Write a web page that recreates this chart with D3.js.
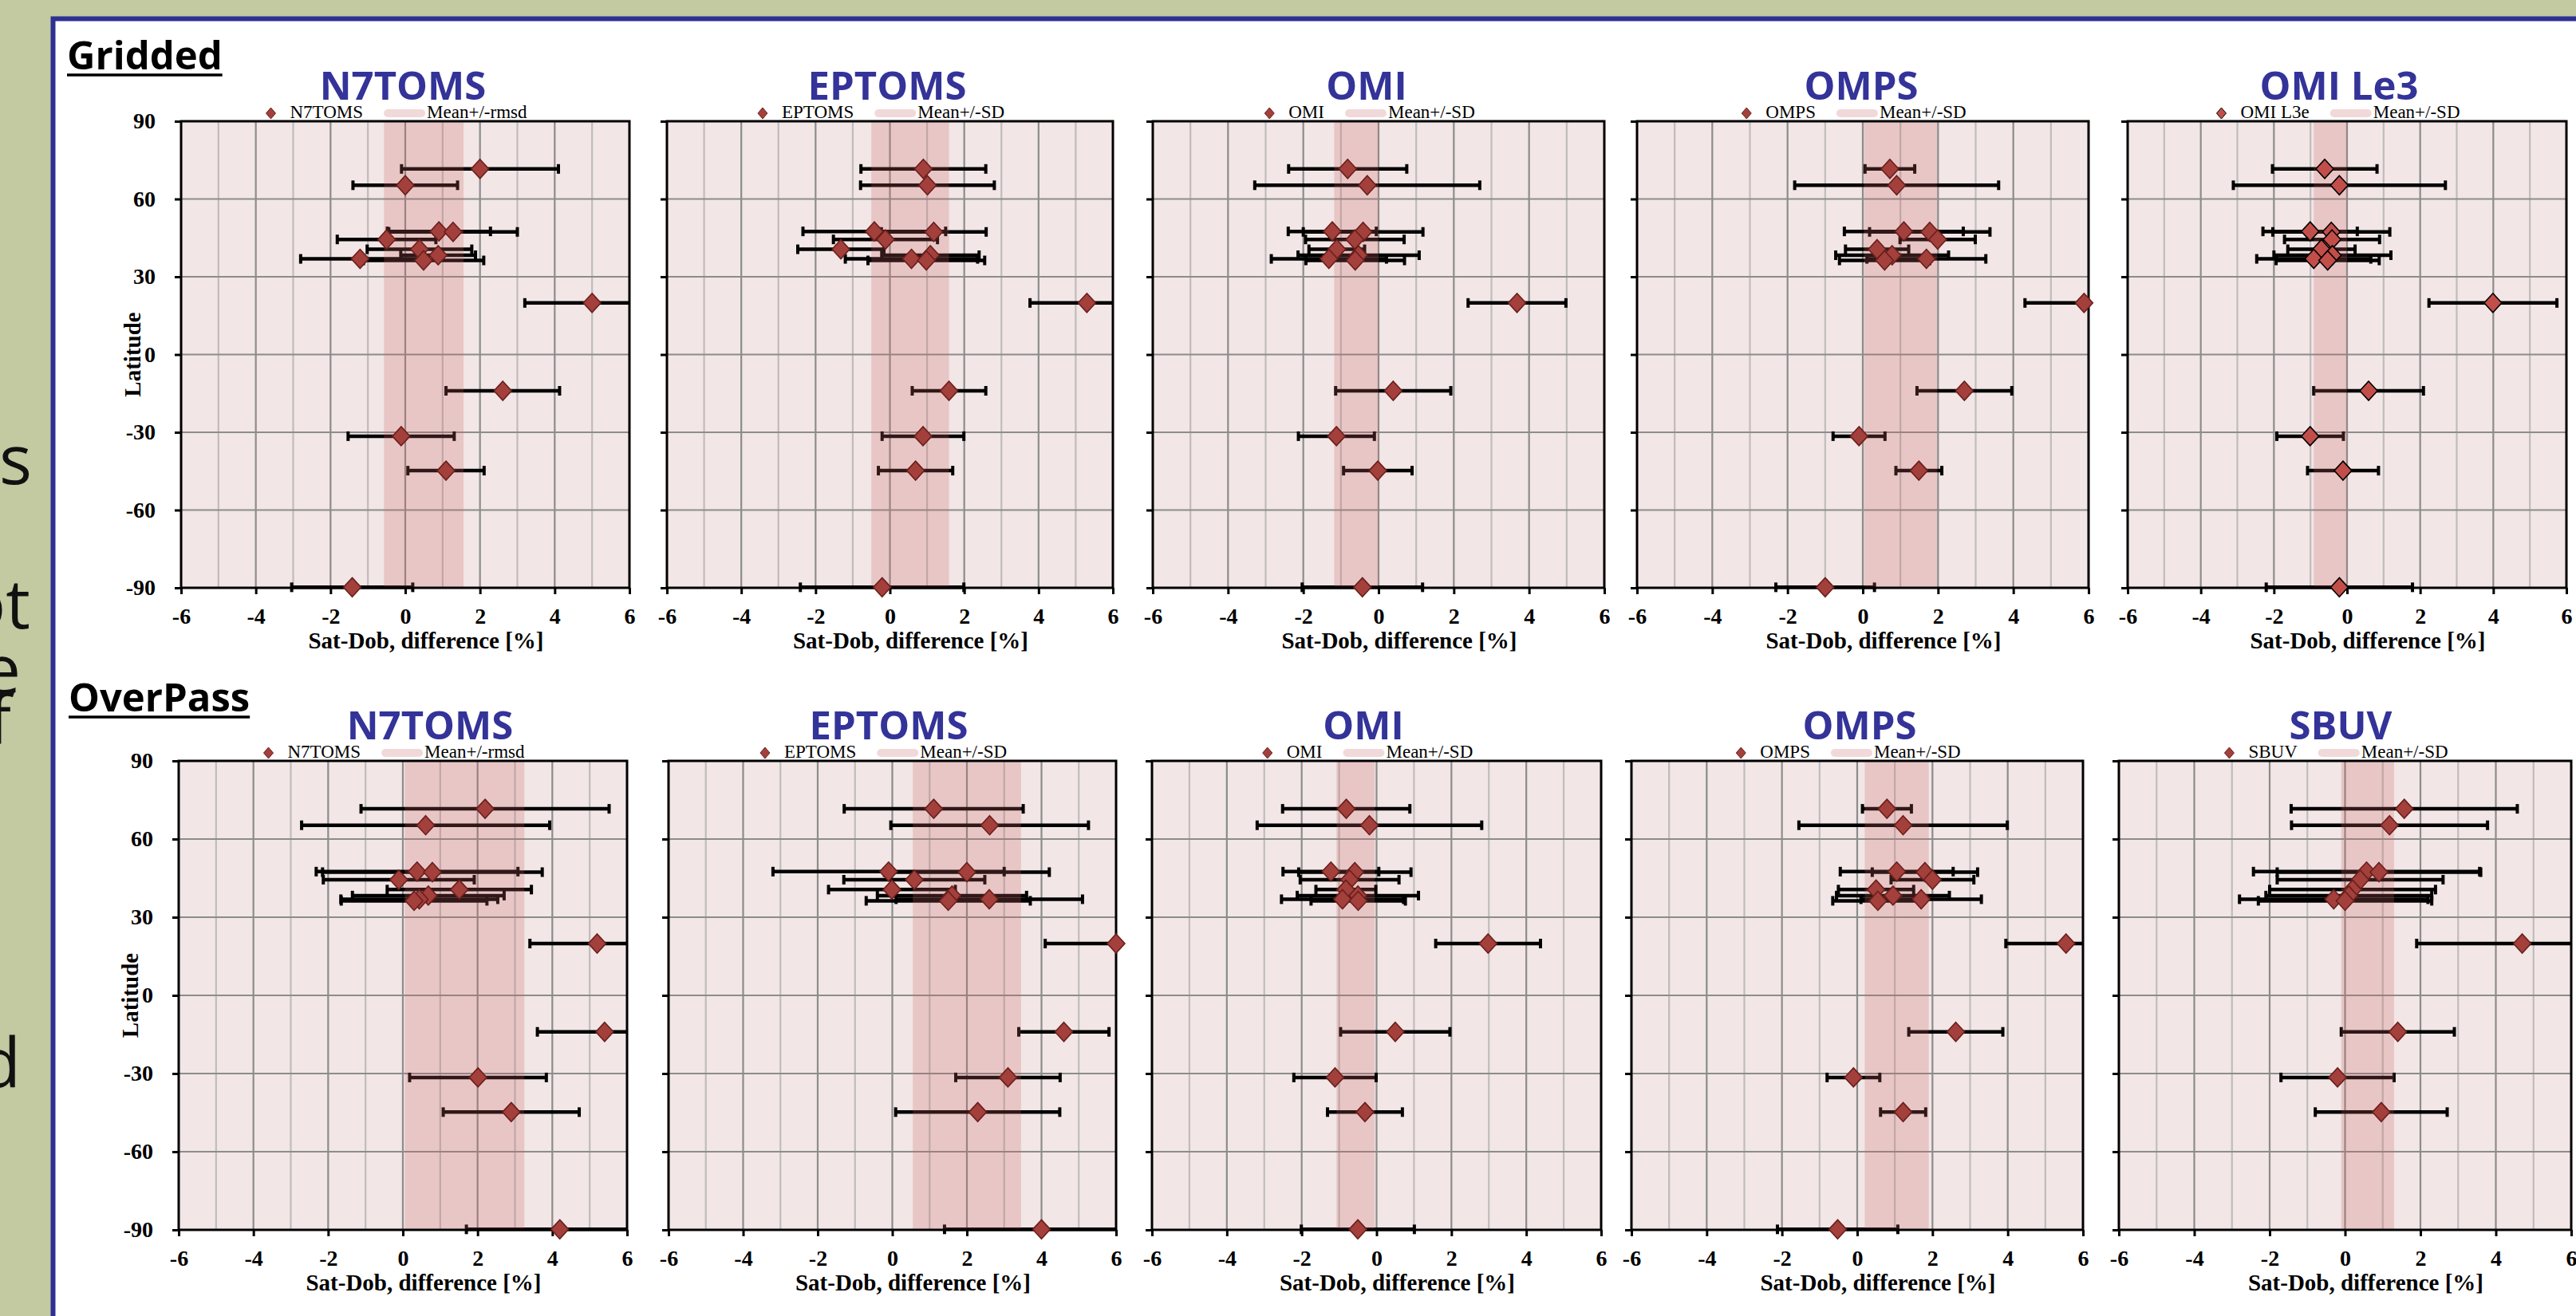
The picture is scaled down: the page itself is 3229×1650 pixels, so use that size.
<!DOCTYPE html>
<html>
<head>
<meta charset="utf-8">
<script src="https://cdn.jsdelivr.net/npm/d3@7"></script>
<style>
  body { margin: 0; background: #c3c9a0; }
  svg { display: block; }
</style>
</head>
<body>
<svg id="chart" width="3229" height="1650"></svg>
<script>
// station latitudes, shared by every panel (north to south)
const stationLat = [71.6, 65.3, 47.5, 47.3, 44.4, 40.6, 38.3, 36.9, 36.3, 19.9, -14.0, -31.5, -44.8, -89.8];
const latTicks = [-90, -60, -30, 0, 30, 60, 90];
const diffTicks = [-6, -4, -2, 0, 2, 4, 6];

// Gridded: mean difference and SD per station
const gridN7Mean   = [2.0, 0.0, 0.9, 1.28, -0.5, 0.38, 0.88, -1.21, 0.49, 5.0, 2.61, -0.11, 1.09, -1.42];
const gridN7Sd     = [2.1, 1.4, 1.38, 1.72, 1.32, 1.4, 1.0, 1.59, 1.61, 1.8, 1.52, 1.42, 1.02, 1.62];
const gridEPMean   = [0.9, 1.01, -0.42, 1.18, -0.12, -1.32, 1.09, 0.58, 0.98, 5.3, 1.59, 0.89, 0.69, -0.21];
const gridEPSd     = [1.68, 1.8, 1.92, 1.41, 1.4, 1.16, 1.31, 1.78, 1.57, 1.53, 0.99, 1.1, 1.0, 2.2];
const gridOMIMean  = [-0.82, -0.3, -1.23, -0.41, -0.63, -1.11, -0.53, -1.32, -0.62, 3.68, 0.39, -1.12, -0.02, -0.43];
const gridOMISd    = [1.57, 2.99, 1.17, 1.59, 1.31, 0.74, 1.61, 1.53, 1.31, 1.3, 1.53, 1.01, 0.91, 1.6];
const gridOMPSMean = [0.72, 0.9, 1.09, 1.78, 1.99, 0.38, 0.78, 1.69, 0.58, 5.88, 2.7, -0.1, 1.49, -1.0];
const gridOMPSSd   = [0.66, 2.71, 1.58, 1.6, 1.0, 0.84, 1.5, 1.58, 1.2, 1.57, 1.26, 0.69, 0.61, 1.31];
const gridL3Mean   = [-0.61, -0.21, -1.01, -0.43, -0.41, -0.7, -0.4, -0.91, -0.53, 3.99, 0.59, -1.01, -0.11, -0.21];
const gridL3Sd     = [1.43, 2.9, 1.29, 1.6, 1.3, 0.92, 1.6, 1.56, 1.41, 1.75, 1.5, 0.91, 0.97, 2.0];

// OverPass
const ovN7Mean   = [2.2, 0.61, 0.38, 0.79, -0.11, 1.51, 0.68, 0.44, 0.3, 5.2, 5.4, 2.01, 2.9, 4.2];
const ovN7Sd     = [3.32, 3.32, 2.7, 2.94, 2.02, 1.93, 2.03, 2.1, 1.95, 1.8, 1.8, 1.83, 1.82, 2.5];
const ovEPMean   = [1.11, 2.61, -0.1, 2.0, 0.59, -0.01, 1.6, 2.6, 1.5, 6.0, 4.6, 3.1, 2.29, 4.0];
const ovEPSd     = [2.4, 2.65, 3.1, 2.21, 1.89, 1.7, 2.0, 2.5, 2.2, 1.9, 1.21, 1.4, 2.2, 2.6];
const ovOMIMean  = [-0.81, -0.19, -1.22, -0.58, -0.72, -0.82, -0.5, -0.91, -0.49, 2.98, 0.5, -1.11, -0.31, -0.5];
const ovOMISd    = [1.7, 3.0, 1.28, 1.5, 1.32, 0.8, 1.62, 1.63, 1.26, 1.4, 1.46, 1.1, 1.0, 1.51];
const ovOMPSMean = [0.79, 1.22, 1.05, 1.8, 2.0, 0.5, 0.95, 1.7, 0.55, 5.55, 2.62, -0.1, 1.22, -0.52];
const ovOMPSSd   = [0.65, 2.77, 1.5, 1.4, 1.1, 1.0, 1.5, 1.6, 1.2, 1.6, 1.25, 0.7, 0.6, 1.6];
const ovSBUVMean = [1.57, 1.18, 0.57, 0.9, 0.4, 0.2, 0.1, -0.3, 0.0, 4.7, 1.4, -0.2, 0.96, null];
const ovSBUVSd   = [3.0, 2.6, 3.0, 2.7, 2.2, 2.2, 2.2, 2.5, 2.3, 2.8, 1.5, 1.5, 1.75, null];

// mean +/- SD (or rmsd) bands
const bandLo = { gN7: -0.57, gEP: -0.5, gOMI: -1.18, gOMPS: 0.03, gL3: -0.91,
                 oN7: 0.05, oEP: 0.55, oOMI: -1.07, oOMPS: 0.2, oSBUV: -0.1 };
const bandHi = { gN7: 1.56, gEP: 1.59, gOMI: 0.0, gOMPS: 1.98, gL3: 0.0,
                 oN7: 3.25, oEP: 3.45, oOMI: -0.05, oOMPS: 1.9, oSBUV: 1.3 };

const SERIF = "'Liberation Serif', 'Times New Roman', serif";
const SANS = "'Open Sans', 'DejaVu Sans', sans-serif";
const BLUE = "#333399";

const svg = d3.select("#chart");
const W = 3229, H = 1650;

// slide background and frame
svg.append("rect").attr("width", W).attr("height", H).attr("fill", "#c3c9a0");
svg.append("rect")
    .attr("x", 66.5).attr("y", 23.5)
    .attr("width", W).attr("height", H)
    .attr("fill", "#fff")
    .attr("stroke", "#2e3192").attr("stroke-width", 6);

// pieces of slide text cut off on the left
svg.append("clipPath").attr("id", "leftcut")
    .append("rect").attr("x", 0).attr("y", 0).attr("width", 63).attr("height", H);
const cut = svg.append("g").attr("clip-path", "url(#leftcut)")
    .attr("font-family", SANS).attr("font-size", 86).attr("fill", "#111")
    .attr("text-anchor", "end");
[["s", 40, 607], ["ot", 38, 788], ["e", 26, 870], ["f", 14, 933], ["d", 26, 1363]]
    .forEach(([t, x, y]) => cut.append("text").attr("x", x).attr("y", y).text(t));

// row labels
function rowLabel(text, x, y) {
    const t = svg.append("text")
        .attr("x", x).attr("y", y)
        .attr("font-family", SANS).attr("font-weight", 700)
        .attr("font-size", 49).attr("fill", "#000")
        .text(text);
    const w = t.node().getComputedTextLength();
    svg.append("line")
        .attr("x1", x).attr("x2", x + w)
        .attr("y1", y + 7).attr("y2", y + 7)
        .attr("stroke", "#000").attr("stroke-width", 3.5);
}
rowLabel("Gridded", 84, 87);
rowLabel("OverPass", 86, 892);

function ErrorBarPanel(
    means, sds, band,
    {
        left, right, top, bottom,
        title, title_x, label,
        band_label = "Mean+/-SD",
        y_labels = false,
        marker_fill = "#a3403c",
        marker_stroke = "#6a1f1c"
    } = {}
){
    const x = d3.scaleLinear([-6, 6], [left, right]);
    const y = d3.scaleLinear([-90, 90], [bottom, top]);
    const clamp = v => Math.max(-6, Math.min(6, v));
    const rows = stationLat
        .map((lat, i) => ({lat: lat, m: means[i], s: sds[i]}))
        .filter(d => d.m != null);
    const diamond = (w, h) => `M0,${-h}L${w},0L0,${h}L${-w},0Z`;

    return {
        g: svg.append("g"),

        _drawGrid: function(){
            this.g.append("rect")
                .attr("x", left).attr("y", top)
                .attr("width", right - left).attr("height", bottom - top)
                .attr("fill", "#f2e6e6");
            this.g.append("g").selectAll("line")
                .data(d3.range(-5, 6))
                .join("line")
                .attr("x1", d => x(d)).attr("x2", d => x(d))
                .attr("y1", top).attr("y2", bottom)
                .attr("stroke", d => d % 2 === 0 ? "#8c8c8c" : "#c0bcbc")
                .attr("stroke-width", 2.2);
            this.g.append("g").selectAll("line")
                .data(latTicks.slice(1, -1))
                .join("line")
                .attr("x1", left).attr("x2", right)
                .attr("y1", d => y(d)).attr("y2", d => y(d))
                .attr("stroke", "#8c8c8c")
                .attr("stroke-width", 2.2);
        },

        _drawAxis: function(){
            this.g.append("g")
                .attr("transform", `translate(${left},0)`)
                .call(d3.axisLeft(y).tickValues(latTicks).tickSize(8).tickPadding(24)
                    .tickFormat(y_labels ? d => String(d) : () => ""))
                .call(a => a.select(".domain").remove())
                .call(a => a.selectAll(".tick line").attr("stroke", "#000").attr("stroke-width", 3))
                .attr("font-family", SERIF).attr("font-size", 28).attr("font-weight", "bold")
                .call(a => a.selectAll("text").attr("fill", "#000"));

            this.g.append("g")
                .attr("transform", `translate(0,${bottom})`)
                .call(d3.axisBottom(x).tickValues(diffTicks).tickSize(8).tickPadding(17)
                    .tickFormat(d => String(d)))
                .call(a => a.select(".domain").remove())
                .call(a => a.selectAll(".tick line").attr("stroke", "#000").attr("stroke-width", 3))
                .attr("font-family", SERIF).attr("font-size", 28).attr("font-weight", "bold")
                .call(a => a.selectAll("text").attr("fill", "#000"));

            this.g.append("text")
                .attr("x", (left + right) / 2 + 26)
                .attr("y", bottom + 76)
                .attr("text-anchor", "middle")
                .attr("font-family", SERIF).attr("font-weight", "bold").attr("font-size", 29)
                .text("Sat-Dob, difference [%]");

            if (y_labels) {
                const cy = (top + bottom) / 2;
                this.g.append("text")
                    .attr("transform", `translate(${left - 51},${cy}) rotate(-90)`)
                    .attr("text-anchor", "middle")
                    .attr("font-family", SERIF).attr("font-weight", "bold").attr("font-size", 29)
                    .text("Latitude");
            }
        },

        _drawData: function(){
            const bars = this.g.append("g").attr("stroke", "#000");
            bars.append("g").selectAll("line")
                .data(rows)
                .join("line")
                .attr("x1", d => x(clamp(d.m - d.s)))
                .attr("x2", d => x(clamp(d.m + d.s)))
                .attr("y1", d => y(d.lat)).attr("y2", d => y(d.lat))
                .attr("stroke-width", 4.5);
            const caps = rows.flatMap(d =>
                [d.m - d.s, d.m + d.s]
                    .filter(v => v >= -6 && v <= 6)
                    .map(v => ({v: v, lat: d.lat})));
            bars.append("g").selectAll("line")
                .data(caps)
                .join("line")
                .attr("x1", d => x(d.v)).attr("x2", d => x(d.v))
                .attr("y1", d => y(d.lat) - 6).attr("y2", d => y(d.lat) + 6)
                .attr("stroke-width", 4);

            // shaded band sits over the bars, as in the source
            this.g.append("rect")
                .attr("x", x(band[0])).attr("y", top)
                .attr("width", x(band[1]) - x(band[0]))
                .attr("height", bottom - top)
                .attr("fill", "rgb(200,100,100)")
                .attr("fill-opacity", 0.245);

            this.g.append("rect")
                .attr("x", left).attr("y", top)
                .attr("width", right - left).attr("height", bottom - top)
                .attr("fill", "none")
                .attr("stroke", "#000").attr("stroke-width", 3);

            this.g.append("g").selectAll("path")
                .data(rows)
                .join("path")
                .attr("transform", d => `translate(${x(d.m)},${y(d.lat)})`)
                .attr("d", diamond(11, 12))
                .attr("fill", marker_fill)
                .attr("stroke", marker_stroke)
                .attr("stroke-width", 1.6);
        },

        _drawHeader: function(){
            this.g.append("text")
                .attr("x", title_x).attr("y", top - 27)
                .attr("text-anchor", "middle")
                .attr("font-family", SANS).attr("font-weight", 700).attr("font-size", 49)
                .attr("fill", BLUE)
                .text(title);

            const lg = this.g.append("g")
                .attr("font-family", SERIF).attr("font-size", 23).attr("fill", "#000");
            const ly = top - 10;
            lg.append("path")
                .attr("transform", `translate(6,${ly})`)
                .attr("d", diamond(6, 7))
                .attr("fill", marker_fill).attr("stroke", marker_stroke).attr("stroke-width", 1);
            const t1 = lg.append("text").attr("x", 30).attr("y", ly + 6).text(label);
            const p0 = 30 + t1.node().getComputedTextLength() + 26;
            lg.append("rect")
                .attr("x", p0).attr("y", ly - 5)
                .attr("width", 52).attr("height", 10).attr("rx", 5)
                .attr("fill", "rgb(241,217,217)");
            const t2 = lg.append("text").attr("x", p0 + 54).attr("y", ly + 6).text(band_label);
            const lw = p0 + 54 + t2.node().getComputedTextLength();
            const cx = (left + right) / 2 - 11;
            lg.attr("transform", `translate(${cx - lw / 2},0)`);
        },

        draw: function(){
            this._drawGrid();
            this._drawAxis();
            this._drawData();
            this._drawHeader();
        }
    };
}

const topRow = {top: 152, bottom: 737};
const botRow = {top: 954, bottom: 1542};

const panels = [
    [gridN7Mean, gridN7Sd, "gN7", {...topRow, left: 227, right: 789, title: "N7TOMS", title_x: 505, label: "N7TOMS", band_label: "Mean+/-rmsd", y_labels: true}],
    [gridEPMean, gridEPSd, "gEP", {...topRow, left: 836, right: 1395, title: "EPTOMS", title_x: 1112, label: "EPTOMS"}],
    [gridOMIMean, gridOMISd, "gOMI", {...topRow, left: 1445, right: 2011, title: "OMI", title_x: 1713, label: "OMI"}],
    [gridOMPSMean, gridOMPSSd, "gOMPS", {...topRow, left: 2052, right: 2618, title: "OMPS", title_x: 2333, label: "OMPS"}],
    [gridL3Mean, gridL3Sd, "gL3", {...topRow, left: 2667, right: 3217, title: "OMI Le3", title_x: 2932, label: "OMI L3e", marker_fill: "#c24e4a", marker_stroke: "#000"}],
    [ovN7Mean, ovN7Sd, "oN7", {...botRow, left: 224, right: 786, title: "N7TOMS", title_x: 539, label: "N7TOMS", band_label: "Mean+/-rmsd", y_labels: true}],
    [ovEPMean, ovEPSd, "oEP", {...botRow, left: 838, right: 1399, title: "EPTOMS", title_x: 1114, label: "EPTOMS"}],
    [ovOMIMean, ovOMISd, "oOMI", {...botRow, left: 1444, right: 2007, title: "OMI", title_x: 1709, label: "OMI"}],
    [ovOMPSMean, ovOMPSSd, "oOMPS", {...botRow, left: 2045, right: 2611, title: "OMPS", title_x: 2331, label: "OMPS"}],
    [ovSBUVMean, ovSBUVSd, "oSBUV", {...botRow, left: 2656, right: 3223, title: "SBUV", title_x: 2934, label: "SBUV"}]
];

panels.forEach(([m, s, key, opts]) =>
    ErrorBarPanel(m, s, [bandLo[key], bandHi[key]], opts).draw());
</script>
</body>
</html>
